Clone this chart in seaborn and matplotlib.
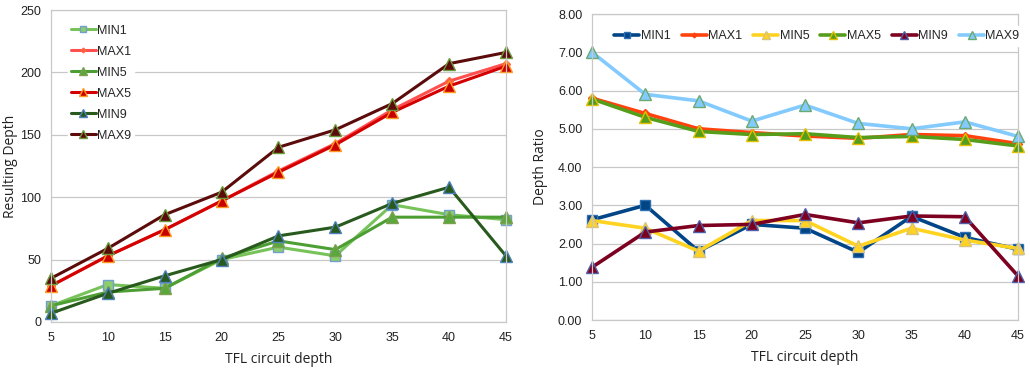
import matplotlib
matplotlib.use("Agg")
import matplotlib.pyplot as plt
import seaborn as sns
import pandas as pd
from matplotlib.ticker import FormatStrFormatter

# ---- data ----
depth = [5, 10, 15, 20, 25, 30, 35, 40, 45]
series_names = ["MIN1", "MAX1", "MIN5", "MAX5", "MIN9", "MAX9"]

# left: resulting depth
res_min1 = [13, 30, 27, 50, 60, 53, 94, 86, 82]
res_max1 = [29, 53, 74, 97, 121, 143, 170, 193, 207]
res_min5 = [13, 24, 27, 51, 65, 58, 84, 84, 84]
res_max5 = [29, 53, 74, 97, 120, 142, 168, 189, 205]
res_min9 = [7, 23, 37, 50, 69, 76, 95, 108, 53]
res_max9 = [35, 59, 86, 104, 140, 154, 175, 207, 216]

# right: depth ratio
rat_min1 = [2.62, 3.00, 1.80, 2.50, 2.40, 1.77, 2.71, 2.16, 1.85]
rat_max1 = [5.80, 5.40, 5.00, 4.90, 4.81, 4.75, 4.85, 4.82, 4.61]
rat_min5 = [2.60, 2.40, 1.80, 2.60, 2.60, 1.93, 2.40, 2.09, 1.87]
rat_max5 = [5.78, 5.30, 4.93, 4.85, 4.87, 4.77, 4.80, 4.72, 4.55]
rat_min9 = [1.38, 2.30, 2.47, 2.50, 2.76, 2.54, 2.72, 2.70, 1.15]
rat_max9 = [7.00, 5.90, 5.73, 5.20, 5.62, 5.14, 5.00, 5.18, 4.80]

left_data = [res_min1, res_max1, res_min5, res_max5, res_min9, res_max9]
right_data = [rat_min1, rat_max1, rat_min5, rat_max5, rat_min9, rat_max9]

# styles: (line color, marker, marker face, marker edge, marker size)
left_styles = [
    ("#77c35a", "s", "#8ccd6c", "#729fcf", 7.5),
    ("#ff4f4f", "D", "#ff4f4f", "#ff6a3d", 4.0),
    ("#4e9f33", "^", "#5aa83c", "#7aa050", 8.5),
    ("#d40000", "^", "#c80000", "#ff9a1f", 8.5),
    ("#275a1c", "^", "#275a1c", "#4f81bd", 8.5),
    ("#5c0b0b", "^", "#5c0b0b", "#6a9a3a", 8.5),
]
right_styles = [
    ("#004586", "s", "#004586", "#2f6fb3", 7.5),
    ("#ff420e", "D", "#ff420e", "#ff420e", 4.0),
    ("#ffd320", "^", "#ffd320", "#d9c27a", 9.0),
    ("#579d1c", "^", "#579d1c", "#e0c000", 9.0),
    ("#7e0021", "^", "#7e0021", "#4f5fa8", 9.0),
    ("#83caff", "^", "#83caff", "#6aaa70", 9.0),
]

sns.set_theme(style="white")
plt.rcParams["font.family"] = ["Liberation Sans", "DejaVu Sans"]

fig = plt.figure(figsize=(10.30, 3.68), dpi=100)
ax1 = fig.add_axes([0.0495, 0.125, 0.4417, 0.8478])
ax2 = fig.add_axes([0.5748, 0.1304, 0.4136, 0.8315])

grid_col = "#c8c8c8"

def style_axes(ax):
    ax.grid(axis="y", color=grid_col, linewidth=0.9)
    ax.grid(axis="x", visible=False)
    ax.set_axisbelow(True)
    for s in ax.spines.values():
        s.set_color(grid_col)
        s.set_linewidth(0.9)
    ax.tick_params(axis="both", which="both", length=4, color=grid_col,
                   labelsize=9, labelcolor="#222222", pad=3, direction="out")
    ax.set_xticks(depth)
    ax.set_xlim(5, 45)

for name, vals, (lc, mk, mf, me, ms) in zip(series_names, left_data, left_styles):
    df = pd.DataFrame({"depth": depth, "v": vals})
    sns.lineplot(data=df, x="depth", y="v", ax=ax1, color=lc, linewidth=2.2,
                 marker=mk, markersize=ms, markerfacecolor=mf,
                 markeredgecolor=me, markeredgewidth=1.0, label=name,
                 clip_on=False)

for name, vals, (lc, mk, mf, me, ms) in zip(series_names, right_data, right_styles):
    df = pd.DataFrame({"depth": depth, "v": vals})
    sns.lineplot(data=df, x="depth", y="v", ax=ax2, color=lc, linewidth=2.6,
                 marker=mk, markersize=ms, markerfacecolor=mf,
                 markeredgecolor=me, markeredgewidth=1.0, label=name,
                 clip_on=False)

style_axes(ax1)
style_axes(ax2)

ax1.set_ylim(0, 250)
ax1.set_yticks([0, 50, 100, 150, 200, 250])
ax2.set_ylim(0, 8)
ax2.set_yticks([0, 1, 2, 3, 4, 5, 6, 7, 8])
ax2.yaxis.set_major_formatter(FormatStrFormatter("%.2f"))

lab_font = dict(family=["Open Sans", "DejaVu Sans"], fontsize=10, color="#222222")
ax1.set_xlabel("TFL circuit depth", labelpad=6, **lab_font)
ax1.set_ylabel("Resulting Depth", **lab_font)
ax2.set_xlabel("TFL circuit depth", labelpad=6, **lab_font)
ax2.set_ylabel("Depth Ratio", **lab_font)
ax1.yaxis.set_label_coords(-0.073, 0.5)
ax2.yaxis.set_label_coords(-0.103, 0.5)

leg1 = ax1.legend(loc="center left", bbox_to_anchor=(0.038, 0.766), ncol=1,
                  frameon=True, fontsize=9, handlelength=2.0, markerscale=0.6,
                  handletextpad=0.1, labelspacing=0.72, borderpad=0.2,
                  borderaxespad=0)
leg1.get_frame().set_facecolor("white")
leg1.get_frame().set_edgecolor("white")
leg1.get_frame().set_alpha(1)

leg2 = ax2.legend(loc="center", bbox_to_anchor=(0.528, 0.928), ncol=6,
                  frameon=True, fontsize=9, handlelength=2.0, markerscale=0.6,
                  handletextpad=0.1, columnspacing=0.9, borderpad=0.3,
                  borderaxespad=0)
leg2.get_frame().set_facecolor("white")
leg2.get_frame().set_edgecolor("white")
leg2.get_frame().set_alpha(1)

fig.savefig("out.png", dpi=100)
